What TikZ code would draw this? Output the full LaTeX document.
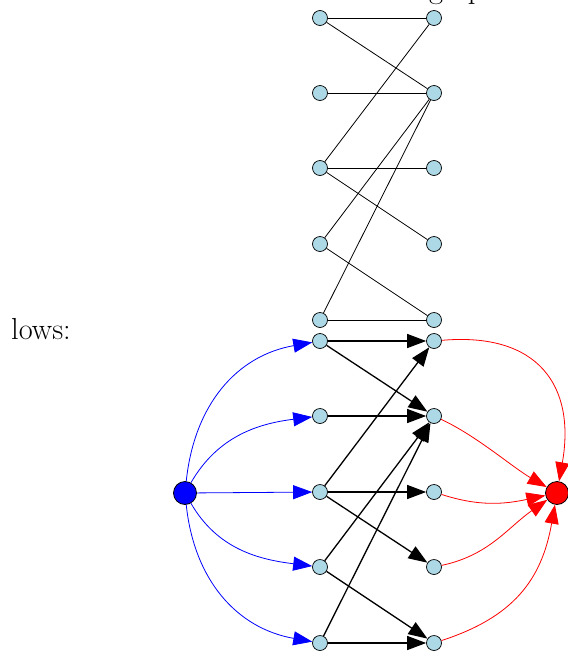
\documentclass[tikz,border=0pt]{standalone}
\usepackage{fontspec}
\usetikzlibrary{arrows.meta}
\definecolor{nodeblue}{RGB}{173,216,230}
\begin{document}
\begin{tikzpicture}[x=1pt,y=1pt,
  vtx/.style={circle,draw=black,fill=nodeblue,minimum size=15pt,inner sep=0pt,line width=0.7pt},
  term/.style={circle,draw=black,minimum size=23pt,inner sep=0pt,line width=0.8pt},
  plain/.style={line width=0.8pt},
  flow/.style={line width=1.3pt,-{Triangle[length=19pt,width=14pt]}},
  srcarc/.style={blue,line width=0.8pt,-{Triangle[length=19pt,width=14pt]}},
  sinkarc/.style={red,line width=0.8pt,-{Triangle[length=19pt,width=14pt]}},
  txt/.style={font=\fontsize{30.4}{36}\selectfont,anchor=base west,inner sep=0pt}
]
\useasboundingbox (0,0) rectangle (568,-654);
\clip (0,0) rectangle (568,-654);
\node[txt] (head) at (429,2) {graph};
\node[txt] (lows) at (11,-339) {lows:};
% top graph
\foreach \i/\y in {1/18,2/93,3/168,4/244,5/320}{
  \node[vtx] (tl\i) at (320,-\y) {};
  \node[vtx] (tr\i) at (434,-\y) {};
}
\foreach \a/\b in {1/1,1/2,2/2,3/1,3/3,3/4,4/2,4/5,5/2,5/5}{
  \draw[plain] (tl\a) -- (tr\b);
}
% bottom network
\foreach \i/\y in {1/341,2/416,3/492,4/567,5/643}{
  \node[vtx] (bl\i) at (320,-\y) {};
  \node[vtx] (br\i) at (434,-\y) {};
}
\node[term,fill=blue] (s) at (185,-493) {};
\node[term,fill=red] (t) at (557,-493) {};
\foreach \a/\b in {1/1,1/2,2/2,3/1,3/3,3/4,4/2,4/5,5/2,5/5}{
  \draw[flow] (bl\a) -- (br\b);
}
\draw[srcarc] (s) to[out=84,in=190,looseness=1.05] (bl1);
\draw[srcarc] (s) to[out=60,in=187] (bl2);
\draw[srcarc] (s) -- (bl3);
\draw[srcarc] (s) to[out=-60,in=173] (bl4);
\draw[srcarc] (s) to[out=-84,in=170,looseness=1.05] (bl5);
\draw[sinkarc] (br1) to[out=5,in=80,looseness=1.35] (t);
\draw[sinkarc] (br2) to[out=-25,in=150,looseness=0.8] (t);
\draw[sinkarc] (br3) to[out=-18,in=192] (t);
\draw[sinkarc] (br4) to[out=12,in=215] (t);
\draw[sinkarc] (br5) to[out=18,in=260,looseness=1.1] (t);
\end{tikzpicture}
\end{document}
